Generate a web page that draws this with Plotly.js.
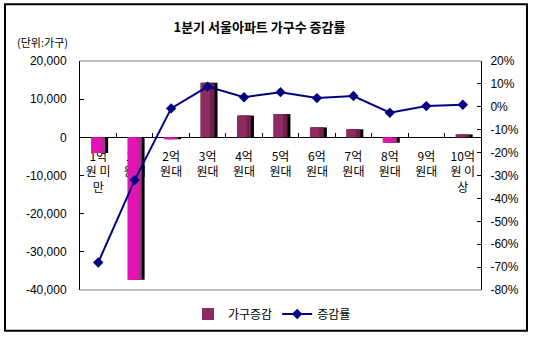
<!DOCTYPE html>
<html><head><meta charset="utf-8">
<script src="https://cdn.plot.ly/plotly-3.0.1.min.js"></script>
<style>html,body{margin:0;padding:0;background:#fff;}#chart{width:534px;height:339px;}</style>
</head><body><div id="chart"></div>
<script>
const categories = ['1억원 미만','1억원대','2억원대','3억원대','4억원대','5억원대','6억원대','7억원대','8억원대','9억원대','10억원 이상'];
const categoryLabels = ['1억<br>원 미<br>만','1억<br>원대','2억<br>원대','3억<br>원대','4억<br>원대','5억<br>원대','6억<br>원대','7억<br>원대','8억<br>원대','9억<br>원대','10억<br>원 이<br>상'];
const householdChange = [-4100, -37300, -500, 14300, 5700, 6100, 2600, 2100, -1400, 0, 750];
const changeRate = [-68, -32, -0.7, 8.8, 4.2, 6.4, 3.8, 4.7, -2.6, 0.3, 0.9];
const leftTickVals = [20000, 10000, 0, -10000, -20000, -30000, -40000];
const leftTickText = ['20,000', '10,000', '0', '-10,000', '-20,000', '-30,000', '-40,000'];
const rightTickVals = [20, 10, 0, -10, -20, -30, -40, -50, -60, -70, -80];
const rightTickText = ['20%', '10%', '0%', '-10%', '-20%', '-30%', '-40%', '-50%', '-60%', '-70%', '-80%'];

const FONT = 'Liberation Sans, Arial, Noto Sans CJK KR, sans-serif';
const KFONT = 'Noto Sans CJK KR, sans-serif';
const barColors = householdChange.map(v => v < 0 ? '#e414b4' : '#8e2c62');
const barColorsDark = householdChange.map(v => v < 0 ? '#b82894' : '#6e1f4a');

const traces = [
  { type: 'bar', x: categories, y: householdChange, width: 0.384, offset: -0.192 + 0.08,
    marker: { color: '#000000', line: { width: 0 } }, showlegend: false, hoverinfo: 'skip' },
  { type: 'bar', x: categories, y: householdChange, width: 0.384, offset: -0.192,
    marker: { color: barColorsDark, line: { width: 0 } }, showlegend: false, hoverinfo: 'skip' },
  { type: 'bar', x: categories, y: householdChange, width: 0.26, offset: -0.192,
    marker: { color: barColors, line: { width: 0 } }, showlegend: false },
  { type: 'bar', name: '가구증감', x: [null], y: [null], marker: { color: '#8a2d5e' }, showlegend: true },
  { type: 'scatter', mode: 'lines+markers', name: '증감률', x: categories, y: changeRate, yaxis: 'y2',
    line: { color: '#000080', width: 2 }, marker: { symbol: 'diamond', size: 8, color: '#000080' } }
];

const layout = {
  width: 534, height: 339,
  margin: { l: 80, r: 53, t: 61, b: 48 },
  paper_bgcolor: '#ffffff', plot_bgcolor: '#ffffff',
  font: { family: FONT, size: 12, color: '#000' },
  barmode: 'overlay',
  title: { text: '<b>1분기 서울아파트 가구수 증감률</b>', font: { family: KFONT, size: 13, color: '#000' },
    xref: 'container', yref: 'container', x: 259.5/534, xanchor: 'center', y: 1 - 27/339, yanchor: 'middle' },
  xaxis: { type: 'category', range: [-0.5, 10.5], anchor: 'free', position: 40000/60000, showline: true, linecolor: '#000', linewidth: 1,
    tickvals: categories, ticktext: categoryLabels, ticks: 'inside', ticklen: 4, tickcolor: '#000', tickson: 'boundaries',
    tickfont: { family: KFONT, size: 12, color: '#000' }, tickangle: 0, ticklabelstandoff: 8,
    showgrid: false, zeroline: false, layer: 'below traces', fixedrange: true },
  yaxis: { range: [-40000, 20000], tickvals: leftTickVals, ticktext: leftTickText, showline: true, linecolor: '#000', linewidth: 1,
    ticks: 'inside', ticklen: 4, tickcolor: '#000', showgrid: false, zeroline: false, ticklabelstandoff: 10,
    tickfont: { family: FONT, size: 12 } },
  yaxis2: { overlaying: 'y', side: 'right', range: [-80, 20], tickvals: rightTickVals, ticktext: rightTickText,
    showline: true, linecolor: '#000', linewidth: 1, ticks: 'inside', ticklen: 4, tickcolor: '#000',
    showgrid: false, zeroline: false, ticklabelstandoff: 6, tickfont: { family: FONT, size: 12 } },
  legend: { orientation: 'h', x: (272-80)/401, xanchor: 'center', y: (291-314)/230, yanchor: 'middle',
    font: { family: KFONT, size: 12 }, bgcolor: 'rgba(0,0,0,0)', traceorder: 'normal' },
  annotations: [
    { text: '(단위:가구)', xref: 'paper', yref: 'paper', x: (15-80)/401, y: (291-42)/230, xanchor: 'left', yanchor: 'middle',
      showarrow: false, font: { family: KFONT, size: 11, color: '#000' } }
  ],
  shapes: [
    { type: 'line', xref: 'paper', yref: 'paper', x0: 0, x1: 1, y0: 1, y1: 1, line: { color: '#808080', width: 1 } },
    { type: 'line', xref: 'paper', yref: 'paper', x0: 0, x1: 1, y0: 0, y1: 0, line: { color: '#808080', width: 1 } },
    { type: 'rect', xref: 'paper', yref: 'paper', x0: (5-80)/401, x1: (527-80)/401, y0: (291-332)/230, y1: (291-4)/230,
      line: { color: '#000', width: 2 }, fillcolor: 'rgba(0,0,0,0)' }
  ],
  showlegend: true
};

Plotly.newPlot('chart', traces, layout, { displayModeBar: false, staticPlot: true });
</script></body></html>
